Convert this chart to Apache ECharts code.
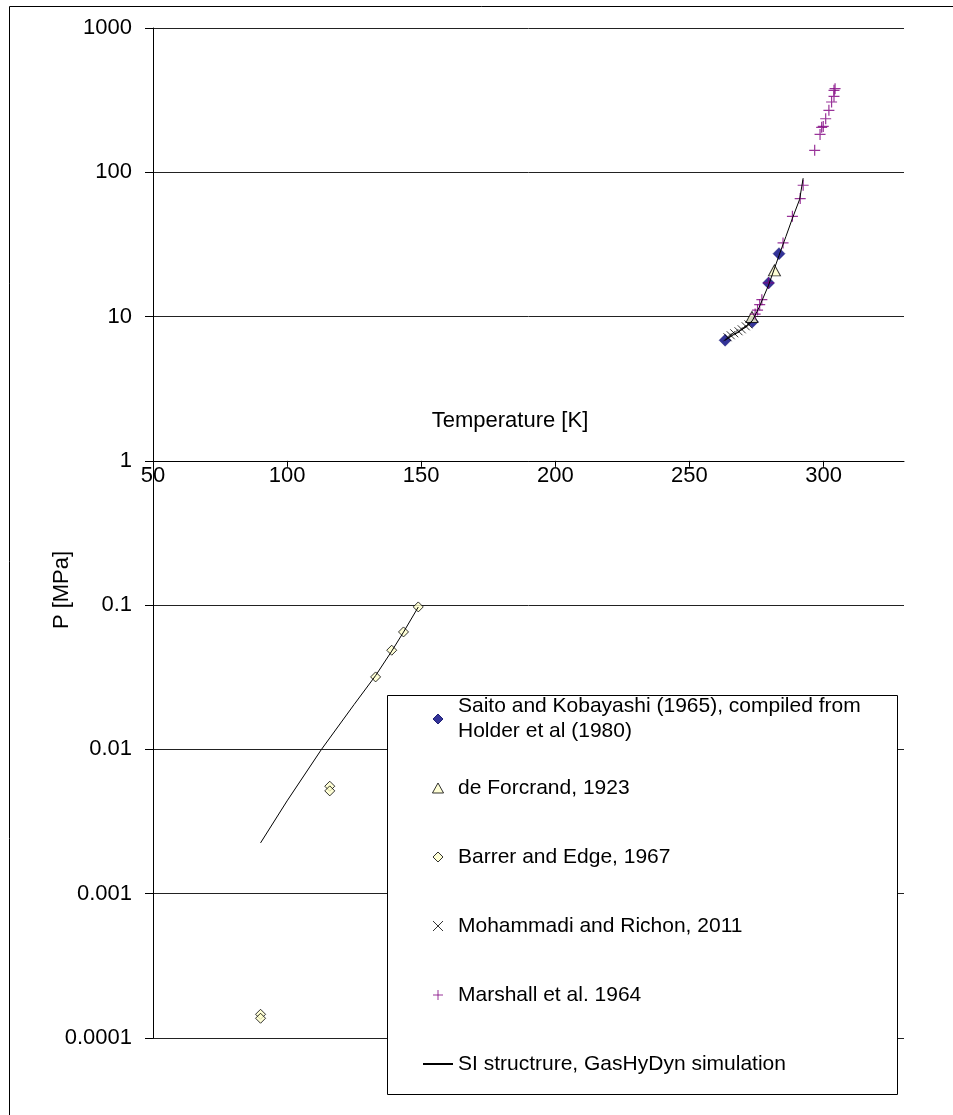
<!DOCTYPE html>
<html>
<head>
<meta charset="utf-8">
<script src="https://cdn.jsdelivr.net/npm/echarts@6/dist/echarts.min.js"></script>
<style>
  html, body { margin: 0; padding: 0; background: #fff; }
  #chart { width: 953px; height: 1115px; }
</style>
</head>
<body>
<div id="chart"></div>
<script>
// Hydrate dissociation pressure vs temperature: experimental sets and simulation
const seriesNames = [
  'Saito and Kobayashi (1965), compiled from\nHolder et al (1980)',
  'de Forcrand, 1923',
  'Barrer and Edge, 1967',
  'Mohammadi and Richon, 2011',
  'Marshall et al. 1964',
  'SI structrure, GasHyDyn simulation'
];

// [T (K), P (MPa)]
const saito = [[263.3, 6.85], [273.5, 9.2], [279.5, 17.1], [283.4, 27.3]];
const deForcrand = [[273.3, 9.94], [281.7, 20.9]];
const barrer = [
  [90.1, 0.000146], [90.1, 0.000137], [115.9, 0.00556], [115.9, 0.00516],
  [133.0, 0.0318], [139.0, 0.0487], [143.4, 0.0652], [148.9, 0.0972]
];
const mohammadi = [
  [264.2, 7.19], [265.4, 7.42], [266.7, 7.66], [268.3, 7.91],
  [269.5, 8.16], [271.0, 8.56], [272.0, 8.83]
];
const marshall = [
  [274.5, 10.4], [275.4, 11.1], [276.2, 12.1], [277.0, 13.1], [279.5, 17.1],
  [284.9, 32.4], [288.4, 49.5], [291.3, 65.7], [292.4, 81.3], [296.7, 142],
  [298.7, 183], [299.3, 205], [299.9, 208], [300.8, 235], [302.0, 269],
  [303.0, 307], [303.9, 336], [303.9, 370], [304.3, 380]
];
// simulated equilibrium curve, low- and high-temperature branches
const simLow = [
  [90.1, 0.00225], [100, 0.0044], [112.8, 0.0100], [125, 0.0205],
  [133, 0.0325], [139, 0.048], [143.4, 0.065], [148.9, 0.097]
];
const simHigh = [
  [263.3, 6.85], [266, 7.4], [269, 8.0], [272, 8.7], [273.5, 9.4],
  [276, 11.6], [279.5, 16.5], [283.4, 26.5], [286, 36], [288.4, 48],
  [291.1, 65], [292.4, 91]
];

const xTicks = [50, 100, 150, 200, 250, 300];
const xMin = 50, xMax = 330;
const yMin = 0.0001, yMax = 1000;
const yTickLabels = ['0.0001', '0.001', '0.01', '0.1', '1', '10', '100', '1000'];

const FONT = "'Liberation Sans', Arial, sans-serif";
const FS = 21;      // legend text
const FS_AXIS = 22; // tick labels and axis titles
const gridTop = 28, gridBottom = 77, gridLeft = 153, gridRight = 49;
const gridH = 1115 - gridTop - gridBottom;
// x axis crosses the pressure axis at P = 1
const xAxisOffset = -gridH * (Math.log10(1) - Math.log10(yMin)) /
  (Math.log10(yMax) - Math.log10(yMin));

const diamondPath = 'path://M5,0L10,5L5,10L0,5Z';
const trianglePath = 'path://M5,0L10,9L0,9Z';
const xPath = 'path://M0,0L10,10M10,0L0,10';
const plusPath = 'path://M5,0L5,10M0,5L10,5';

const chart = echarts.init(document.getElementById('chart'), null, { renderer: 'canvas' });

const singleText = {
  padding: [25, 0, 25, 0],
  backgroundColor: 'rgba(255,255,255,0)'
};

chart.setOption({
  animation: false,
  backgroundColor: '#fff',
  textStyle: { fontFamily: FONT, color: '#000' },
  grid: { left: gridLeft, right: gridRight, top: gridTop, bottom: gridBottom, containLabel: false },
  graphic: [
    {
      type: 'rect', z: 0, silent: true,
      shape: { x: 9.5, y: 6.5, width: 1000, height: 1200 },
      style: { fill: 'none', stroke: '#000', lineWidth: 1 }
    },
    {
      type: 'rect', z: 10, silent: true,
      shape: { x: 387.5, y: 695.5, width: 510, height: 399 },
      style: { fill: '#fff', stroke: '#000', lineWidth: 1 }
    }
  ],
  legend: {
    z: 20,
    orient: 'vertical',
    left: 422,
    top: 681.5,
    padding: 0,
    itemGap: -6,
    itemWidth: 30,
    itemHeight: 10,
    symbolKeepAspect: true,
    selectedMode: false,
    itemStyle: { borderWidth: 1 },
    textStyle: {
      fontFamily: FONT, fontSize: FS, color: '#000', lineHeight: 25,
      padding: [25, 0, 25, 0], backgroundColor: 'rgba(255,255,255,0)'
    },
    data: [
      { name: seriesNames[0], textStyle: { padding: [25, 0, 0, 0], backgroundColor: 'rgba(255,255,255,0)' } },
      { name: seriesNames[1], textStyle: singleText },
      { name: seriesNames[2], textStyle: singleText },
      { name: seriesNames[3], textStyle: singleText },
      { name: seriesNames[4], textStyle: singleText },
      {
        name: seriesNames[5], textStyle: singleText,
        itemStyle: { color: 'rgba(0,0,0,0)', borderColor: 'rgba(0,0,0,0)', borderWidth: 0 }
      }
    ]
  },
  xAxis: {
    type: 'value',
    min: xMin, max: xMax, interval: 50,
    position: 'bottom',
    offset: xAxisOffset,
    name: 'Temperature [K]',
    nameLocation: 'middle',
    nameGap: -51,
    nameMoveOverlap: false,
    nameTextStyle: { fontFamily: FONT, fontSize: FS_AXIS, color: '#000', padding: [0, 37, 0, 0] },
    axisLine: { onZero: false, lineStyle: { color: '#000', width: 1 } },
    axisTick: { show: true, inside: false, length: 6, customValues: xTicks, lineStyle: { color: '#000' } },
    axisLabel: { fontFamily: FONT, fontSize: FS_AXIS, color: '#000', margin: 4, customValues: xTicks },
    splitLine: { show: false }
  },
  yAxis: {
    type: 'log',
    logBase: 10,
    min: yMin, max: yMax,
    splitNumber: 7,
    name: 'P [MPa]',
    nameLocation: 'middle',
    nameGap: 80,
    nameMoveOverlap: false,
    nameTextStyle: { fontFamily: FONT, fontSize: FS_AXIS, color: '#000', padding: [0, 114, 0, 0] },
    axisLine: { show: true, lineStyle: { color: '#000', width: 1 } },
    axisTick: { show: true, inside: false, length: 8, lineStyle: { color: '#000' } },
    axisLabel: {
      fontFamily: FONT, fontSize: FS_AXIS, color: '#000', margin: 21,
      formatter: (v, i) => yTickLabels[i] !== undefined ? yTickLabels[i] : ''
    },
    splitLine: { show: true, lineStyle: { color: '#222', width: 1 } },
    minorTick: { show: false }
  },
  series: [
    {
      name: seriesNames[0], type: 'scatter', data: saito,
      symbol: diamondPath, symbolSize: 12,
      itemStyle: { color: '#000080', borderColor: '#000060', borderWidth: 0.5 }
    },
    {
      name: seriesNames[1], type: 'scatter', data: deForcrand,
      symbol: trianglePath, symbolSize: [12, 11],
      itemStyle: { color: '#FFFFCC', borderColor: '#000', borderWidth: 1 }
    },
    {
      name: seriesNames[2], type: 'scatter', data: barrer,
      symbol: diamondPath, symbolSize: 10,
      itemStyle: { color: '#FFFFCC', borderColor: '#000', borderWidth: 1 }
    },
    {
      name: seriesNames[3], type: 'scatter', data: mohammadi,
      symbol: xPath, symbolSize: 8,
      itemStyle: { color: 'rgba(0,0,0,0)', borderColor: '#000', borderWidth: 1 }
    },
    {
      name: seriesNames[4], type: 'scatter', data: marshall,
      symbol: plusPath, symbolSize: 11,
      itemStyle: { color: 'rgba(0,0,0,0)', borderColor: '#800080', borderWidth: 1.2 }
    },
    {
      name: seriesNames[5], type: 'line', data: simLow,
      symbol: 'none', showSymbol: false, smooth: false,
      lineStyle: { color: '#000', width: 1 },
      itemStyle: { color: '#000' }
    },
    {
      name: seriesNames[5], type: 'line', data: simHigh,
      symbol: 'none', showSymbol: false, smooth: false,
      lineStyle: { color: '#000', width: 1 },
      itemStyle: { color: '#000' }
    }
  ]
});
</script>
</body>
</html>
